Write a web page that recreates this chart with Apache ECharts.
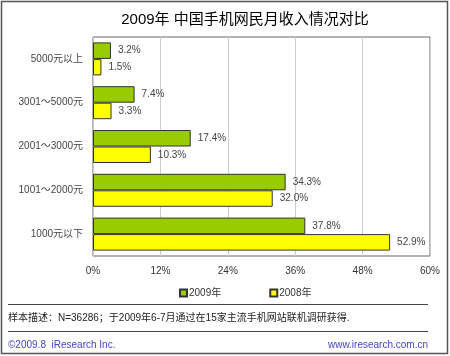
<!DOCTYPE html>
<html><head><meta charset="utf-8">
<script src="https://cdn.jsdelivr.net/npm/echarts@6/dist/echarts.min.js"></script>
<style>html,body{margin:0;padding:0;background:#fff}#c{width:450px;height:356px}</style>
</head><body><div id="c"></div>
<script>
var categories = ['5000元以上', '3001～5000元', '2001～3000元', '1001～2000元', '1000元以下'];
var s2009 = [3.2, 7.4, 17.4, 34.3, 37.8];
var s2008 = [1.5, 3.3, 10.3, 32.0, 52.9];
var xTicks = [0, 12, 24, 36, 48, 60];
var F = '"Liberation Sans","Noto Sans CJK SC",sans-serif';
var chart = echarts.init(document.getElementById('c'));
var lbl = {show:true, position:'right', distance:7, color:'#444', fontSize:10, fontFamily:F,
  formatter:function(p){return p.value.toFixed(1)+'%';}};
chart.setOption({
  animation:false,
  title:{text:'2009年 中国手机网民月收入情况对比', left:240, textAlign:'center', top:7,
    textStyle:{fontSize:15, fontWeight:'normal', color:'#000', fontFamily:F}},
  grid:{left:93, right:20, top:37, bottom:100, containLabel:false, show:true, borderColor:'#666', borderWidth:1},
  legend:{left:174, top:283, itemWidth:7, itemHeight:7, itemGap:48, icon:'rect',
    textStyle:{fontSize:10, color:'#333', fontFamily:F, padding:[0,0,0,-3]},
    data:['2009年','2008年']},
  xAxis:{type:'value', min:xTicks[0], max:xTicks[xTicks.length-1], interval:12,
    axisLine:{show:false}, axisTick:{show:false},
    splitLine:{lineStyle:{color:'#ccc'}},
    axisLabel:{color:'#333', fontSize:10, fontFamily:F, margin:10, formatter:function(v){return v+'%';}}},
  yAxis:{type:'category', data:categories, inverse:true,
    axisLine:{show:false}, axisTick:{show:false},
    axisLabel:{color:'#444', fontSize:10, fontFamily:F, margin:10}},
  series:[
    {name:'2009年', type:'bar', data:s2009, barWidth:16.5, barGap:'0%',
      itemStyle:{color:'#99CC00', borderColor:'#333', borderWidth:1}, label:lbl},
    {name:'2008年', type:'bar', data:s2008, barWidth:16.5, barGap:'0%',
      itemStyle:{color:'#FFFF00', borderColor:'#333', borderWidth:1}, label:lbl}
  ],
  graphic:[
    {type:'rect', shape:{x:1.5, y:1.5, width:446, height:352}, style:{fill:null, stroke:'#555', lineWidth:1.5}, silent:true},
    {type:'line', shape:{x1:8, y1:304.5, x2:428, y2:304.5}, style:{stroke:'#444', lineWidth:1}},
    {type:'line', shape:{x1:8, y1:331.5, x2:428, y2:331.5}, style:{stroke:'#444', lineWidth:1}},
    {type:'text', left:8, top:313, style:{text:'样本描述：N=36286；于2009年6-7月通过在15家主流手机网站联机调研获得.', fontSize:10, fill:'#222', fontFamily:F}},
    {type:'text', left:8, top:340, style:{text:'©2009.8  iResearch Inc.', fontSize:10, fill:'#4444CC', fontFamily:F}},
    {type:'text', right:22, top:340, style:{text:'www.iresearch.com.cn', fontSize:10, fill:'#4444CC', fontFamily:F}}
  ]
});
</script></body></html>
